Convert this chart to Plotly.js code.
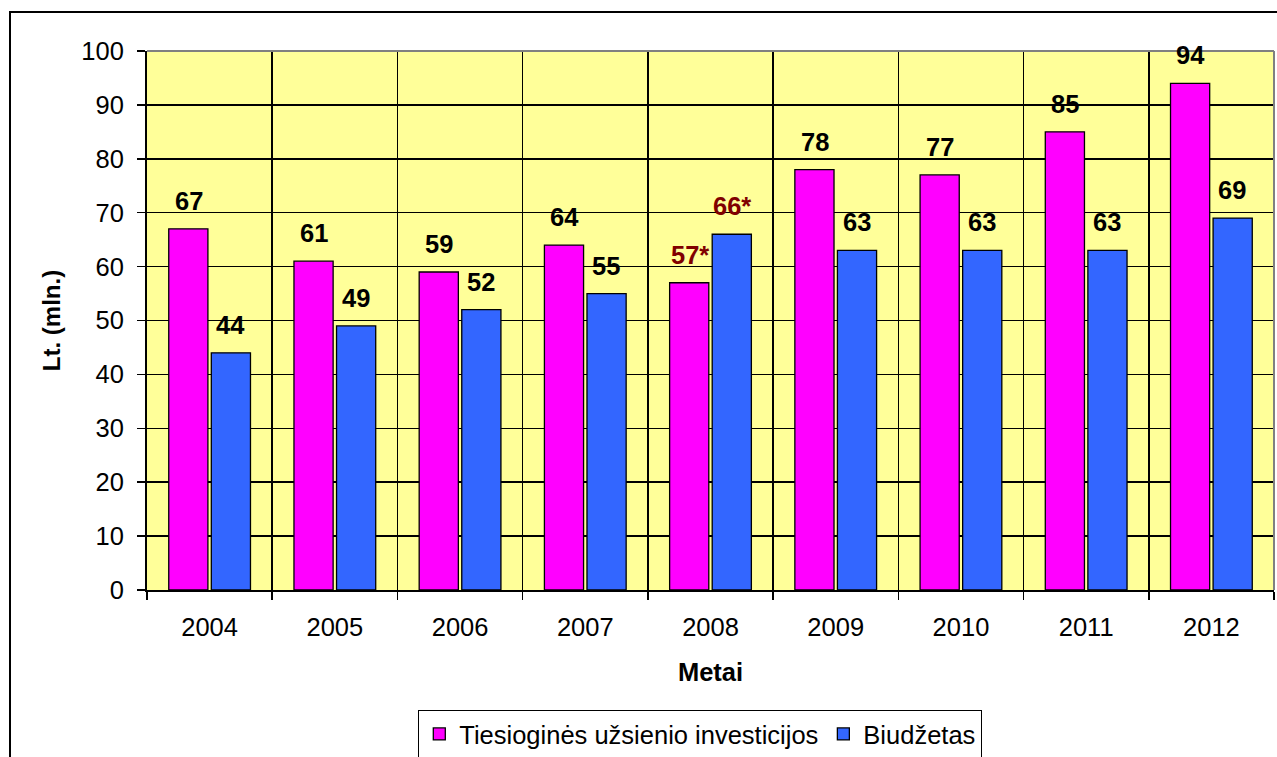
<!DOCTYPE html>
<html>
<head>
<meta charset="utf-8">
<script src="https://cdn.plot.ly/plotly-3.0.1.min.js"></script>
<style>
  html, body { margin: 0; padding: 0; background: #fff; }
  #chart { width: 1277px; height: 757px; }
</style>
</head>
<body>
<div id="chart"></div>
<script>
const years = ["2004", "2005", "2006", "2007", "2008", "2009", "2010", "2011", "2012"];
const investicijos = [67, 61, 59, 64, 57, 78, 77, 85, 94];
const biudzetas = [44, 49, 52, 55, 66, 63, 63, 63, 69];
// 2008 values are marked with an asterisk
const investLabels = ["67", "61", "59", "64", "57*", "78", "77", "85", "94"];
const biudzLabels = ["44", "49", "52", "55", "66*", "63", "63", "63", "69"];
const markedYear = "2008";

const FONT = "Liberation Sans, Arial, sans-serif";
const FS = 25.5;
const M = { l: 147, r: 3, t: 51, b: 167, autoexpand: false };
const W = 1277, H = 757;
const pw = W - M.l - M.r;
const ph = H - M.t - M.b;

const data = [
  {
    type: "bar",
    name: "Tiesioginės užsienio investicijos",
    x: years,
    y: investicijos,
    marker: { color: "#FF00FF", line: { color: "#000", width: 1.3 } },
    hoverinfo: "x+y"
  },
  {
    type: "bar",
    name: "Biudžetas",
    x: years,
    y: biudzetas,
    marker: { color: "#3366FF", line: { color: "#000", width: 1.3 } },
    hoverinfo: "x+y"
  }
];

// value labels above bars (x given as category index)
const annotations = [];
function addLabels(values, labels, shift) {
  values.forEach((v, i) => {
    annotations.push({
      x: i,
      y: v,
      xref: "x",
      yref: "y",
      text: "<b>" + labels[i] + "</b>",
      showarrow: false,
      xshift: shift,
      yshift: 28,
      yanchor: "middle",
      font: {
        family: FONT,
        size: FS,
        color: years[i] === markedYear ? "#800000" : "#000"
      }
    });
  });
}
addLabels(investicijos, investLabels, -21);
addLabels(biudzetas, biudzLabels, 21);

const layout = {
  width: W,
  height: H,
  margin: M,
  paper_bgcolor: "#fff",
  plot_bgcolor: "#FFFF99",
  font: { family: FONT, size: FS, color: "#000" },
  barmode: "group",
  bargap: 0.32,
  bargroupgap: 0.08,
  showlegend: true,
  legend: {
    orientation: "h",
    x: (700 - M.l) / pw,
    xanchor: "center",
    y: (M.b - (H - 734)) / -ph,
    yanchor: "middle",
    bordercolor: "#000",
    borderwidth: 1.3,
    bgcolor: "#fff",
    font: { family: FONT, size: FS },
    itemwidth: 30,
    tracegroupgap: 0
  },
  xaxis: {
    type: "category",
    categoryorder: "array",
    categoryarray: years,
    range: [-0.5, years.length - 0.5],
    tickson: "boundaries",
    ticks: "outside",
    ticklen: 8,
    tickwidth: 1.5,
    tickcolor: "#000",
    tickangle: 0,
    ticklabelstandoff: 13,
    showgrid: true,
    gridcolor: "#000",
    gridwidth: 1.5,
    showline: true,
    linecolor: "#000",
    linewidth: 2,
    tickfont: { size: FS },
    title: {
      text: "<b>Metai</b>",
      font: { size: FS },
      standoff: 24
    },
    automargin: false
  },
  yaxis: {
    range: [0, 100],
    dtick: 10,
    ticks: "outside",
    ticklen: 8,
    tickwidth: 1.5,
    tickcolor: "#000",
    ticklabelstandoff: 8,
    showgrid: true,
    gridcolor: "#000",
    gridwidth: 1.5,
    zeroline: false,
    showline: true,
    linecolor: "#000",
    linewidth: 2,
    tickfont: { size: FS },
    title: {
      text: "<b>Lt. (mln.)</b>",
      font: { size: 24 },
      standoff: 14
    },
    automargin: false
  },
  annotations: annotations,
  shapes: [
    // grey top/right edge of plot area
    {
      type: "line", xref: "paper", yref: "paper",
      x0: 0, x1: 1, y0: 1, y1: 1,
      line: { color: "#808080", width: 2 }
    },
    {
      type: "line", xref: "paper", yref: "paper",
      x0: 1, x1: 1, y0: 0, y1: 1,
      line: { color: "#808080", width: 2 }
    },
    // outer chart border (cut off at right and bottom)
    {
      type: "rect", xref: "paper", yref: "paper",
      x0: (10 - M.l) / pw, x1: 1.2,
      y0: -0.5, y1: (H - M.b - 12) / ph,
      line: { color: "#000", width: 2 },
      layer: "below"
    }
  ]
};

Plotly.newPlot("chart", data, layout, { displayModeBar: false, staticPlot: true });
</script>
</body>
</html>
